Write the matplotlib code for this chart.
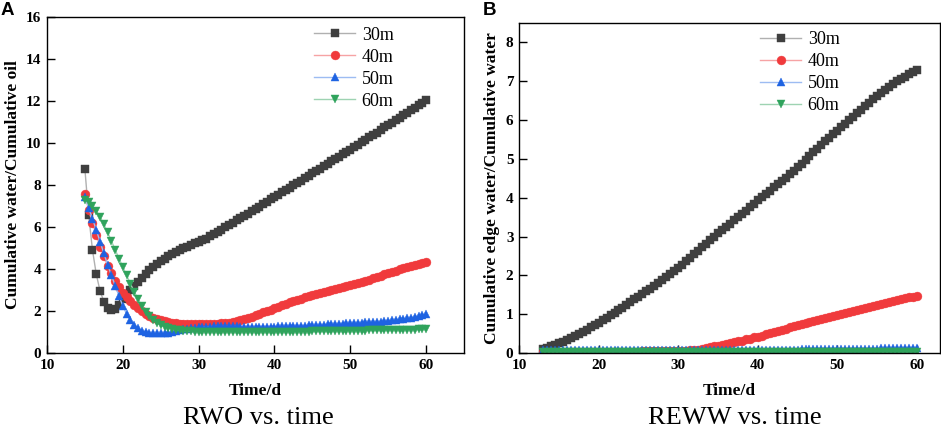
import numpy as np
import matplotlib
matplotlib.use("Agg")
import matplotlib.pyplot as plt

plt.rcParams['font.family'] = ['Liberation Serif', 'DejaVu Serif']

# ---- panel A: RWO vs. time (0.5 d steps, 15..60) ----
time_a = np.arange(15, 60.25, 0.5)
rwo_30 = [8.75, 6.55, 4.9, 3.75, 2.95, 2.45, 2.15, 2.05, 2.1, 2.3,
          2.55, 2.8, 3.0, 3.2, 3.4, 3.58, 3.75, 3.93, 4.1, 4.26,
          4.4, 4.5, 4.6, 4.7, 4.8, 4.89, 4.98, 5.07, 5.15, 5.23,
          5.3, 5.38, 5.45, 5.55, 5.65, 5.76, 5.87, 5.98, 6.09, 6.2,
          6.31, 6.42, 6.53, 6.64, 6.75, 6.86, 6.97, 7.08, 7.2, 7.31,
          7.42, 7.53, 7.65, 7.76, 7.87, 7.98, 8.1, 8.21, 8.32, 8.43,
          8.55, 8.66, 8.78, 8.89, 9.0, 9.12, 9.23, 9.35, 9.46, 9.58,
          9.69, 9.8, 9.92, 10.03, 10.15, 10.27, 10.39, 10.5, 10.62, 10.74,
          10.86, 10.97, 11.09, 11.2, 11.32, 11.44, 11.56, 11.68, 11.8, 11.92,
          12.04]
rwo_40 = [7.55, 6.8, 6.2, 5.6, 5.05, 4.6, 4.15, 3.8, 3.45, 3.12,
          2.85, 2.65, 2.47, 2.3, 2.14, 2.0, 1.88, 1.78, 1.69, 1.62,
          1.56, 1.51, 1.47, 1.44, 1.42, 1.4, 1.39, 1.38, 1.37, 1.37,
          1.37, 1.37, 1.37, 1.38, 1.38, 1.39, 1.41, 1.43, 1.45, 1.48,
          1.51, 1.55, 1.6, 1.66, 1.72, 1.79, 1.86, 1.93, 2.0, 2.07,
          2.14, 2.21, 2.28, 2.35, 2.41, 2.47, 2.53, 2.59, 2.65, 2.7,
          2.75, 2.8, 2.85, 2.9, 2.95, 3.0, 3.05, 3.1, 3.15, 3.2,
          3.25, 3.3, 3.35, 3.4, 3.45, 3.5, 3.56, 3.62, 3.68, 3.74,
          3.8, 3.86, 3.92, 3.98, 4.04, 4.1, 4.15, 4.2, 4.24, 4.28,
          4.31]
rwo_50 = [7.45, 6.9, 6.4, 5.85, 5.3, 4.75, 4.2, 3.7, 3.2, 2.7,
          2.25, 1.85, 1.55, 1.33, 1.17, 1.06, 1.0, 0.97, 0.95, 0.94,
          0.94, 0.95, 0.97, 1.0, 1.04, 1.08, 1.12, 1.15, 1.18, 1.2,
          1.22, 1.24, 1.25, 1.26, 1.27, 1.27, 1.27, 1.27, 1.27, 1.27,
          1.27, 1.26, 1.26, 1.26, 1.26, 1.26, 1.26, 1.26, 1.26, 1.26,
          1.26, 1.27, 1.27, 1.28, 1.28, 1.29, 1.29, 1.3, 1.3, 1.31,
          1.32, 1.33, 1.34, 1.35, 1.36, 1.37, 1.38, 1.39, 1.4, 1.41,
          1.42, 1.43, 1.44, 1.45, 1.46, 1.47, 1.48, 1.49, 1.5, 1.52,
          1.54, 1.56, 1.58, 1.6, 1.62, 1.65, 1.68, 1.72, 1.76, 1.8,
          1.85]
rwo_60 = [7.3, 7.2, 7.02, 6.78, 6.48, 6.12, 5.74, 5.33, 4.91, 4.5,
          4.1, 3.7, 3.3, 2.92, 2.57, 2.25, 1.97, 1.75, 1.57, 1.44,
          1.34, 1.26, 1.2, 1.15, 1.11, 1.08, 1.06, 1.04, 1.03, 1.02,
          1.01, 1.01, 1.0, 1.0, 1.0, 1.0, 1.0, 1.0, 1.0, 1.0,
          1.0, 1.0, 1.0, 1.0, 1.0, 1.0, 1.0, 1.0, 1.0, 1.0,
          1.0, 1.0, 1.0, 1.01, 1.01, 1.01, 1.01, 1.02, 1.02, 1.02,
          1.03, 1.03, 1.03, 1.04, 1.04, 1.04, 1.05, 1.05, 1.05, 1.06,
          1.06, 1.06, 1.07, 1.07, 1.07, 1.08, 1.08, 1.08, 1.09, 1.09,
          1.09, 1.1, 1.1, 1.1, 1.1, 1.11, 1.11, 1.11, 1.12, 1.12,
          1.12]

# ---- panel B: REWW vs. time (0.5 d steps, 13..60) ----
time_b = np.arange(13, 60.25, 0.5)
reww_30 = [0.10, 0.13, 0.17, 0.21, 0.25, 0.29, 0.34, 0.39, 0.44, 0.49,
           0.55, 0.6, 0.66, 0.72, 0.78, 0.84, 0.91, 0.97, 1.04, 1.1,
           1.17, 1.24, 1.31, 1.38, 1.45, 1.52, 1.59, 1.66, 1.73, 1.8,
           1.88, 1.95, 2.03, 2.1, 2.18, 2.27, 2.36, 2.45, 2.54, 2.63,
           2.72, 2.81, 2.9, 2.99, 3.08, 3.16, 3.25, 3.33, 3.42, 3.5,
           3.59, 3.67, 3.76, 3.84, 3.93, 4.01, 4.1, 4.18, 4.27, 4.35,
           4.44, 4.52, 4.61, 4.7, 4.79, 4.88, 4.98, 5.07, 5.17, 5.26,
           5.36, 5.45, 5.55, 5.64, 5.73, 5.82, 5.91, 6.0, 6.09, 6.18,
           6.27, 6.36, 6.45, 6.53, 6.62, 6.7, 6.78, 6.86, 6.93, 7.0,
           7.06, 7.12, 7.18, 7.24, 7.29]
reww_40 = [0.03, 0.03, 0.03, 0.03, 0.03, 0.03, 0.03, 0.03, 0.03, 0.03,
           0.03, 0.03, 0.03, 0.03, 0.03, 0.03, 0.03, 0.03, 0.03, 0.03,
           0.03, 0.03, 0.03, 0.03, 0.03, 0.04, 0.04, 0.04, 0.04, 0.04,
           0.04, 0.04, 0.05, 0.05, 0.05, 0.06, 0.06, 0.07, 0.08, 0.09,
           0.11, 0.13, 0.15, 0.17, 0.19, 0.21, 0.23, 0.25, 0.28, 0.3,
           0.32, 0.35, 0.37, 0.4, 0.42, 0.45, 0.48, 0.51, 0.54, 0.57,
           0.6, 0.63, 0.66, 0.69, 0.72, 0.75, 0.77, 0.8, 0.82, 0.85,
           0.88, 0.9, 0.93, 0.95, 0.98, 1.0, 1.03, 1.05, 1.08, 1.1,
           1.13, 1.15, 1.18, 1.2, 1.23, 1.26, 1.29, 1.31, 1.34, 1.36,
           1.39, 1.41, 1.43, 1.45, 1.47]
reww_50 = [0.07, 0.07, 0.07, 0.07, 0.07, 0.07, 0.07, 0.07, 0.07, 0.07,
           0.07, 0.07, 0.07, 0.07, 0.07, 0.07, 0.07, 0.07, 0.07, 0.07,
           0.07, 0.07, 0.07, 0.07, 0.07, 0.07, 0.07, 0.07, 0.07, 0.07,
           0.07, 0.07, 0.07, 0.07, 0.07, 0.07, 0.07, 0.07, 0.07, 0.07,
           0.08, 0.08, 0.08, 0.08, 0.08, 0.08, 0.08, 0.08, 0.08, 0.08,
           0.08, 0.08, 0.08, 0.08, 0.08, 0.09, 0.09, 0.09, 0.09, 0.09,
           0.09, 0.09, 0.09, 0.09, 0.09, 0.1, 0.1, 0.1, 0.1, 0.1,
           0.1, 0.1, 0.1, 0.1, 0.1, 0.11, 0.11, 0.11, 0.11, 0.11,
           0.11, 0.11, 0.11, 0.11, 0.11, 0.12, 0.12, 0.12, 0.12, 0.12,
           0.13, 0.13, 0.14, 0.14, 0.14]
reww_60 = [0.02, 0.02, 0.02, 0.02, 0.02, 0.03, 0.03, 0.03, 0.03, 0.03,
           0.03, 0.03, 0.03, 0.03, 0.03, 0.03, 0.03, 0.03, 0.03, 0.03,
           0.03, 0.03, 0.03, 0.03, 0.03, 0.03, 0.03, 0.03, 0.03, 0.03,
           0.03, 0.03, 0.03, 0.03, 0.03, 0.03, 0.03, 0.03, 0.03, 0.03,
           0.03, 0.03, 0.03, 0.03, 0.03, 0.03, 0.03, 0.03, 0.03, 0.03,
           0.03, 0.03, 0.03, 0.03, 0.03, 0.03, 0.03, 0.03, 0.03, 0.03,
           0.03, 0.03, 0.03, 0.03, 0.03, 0.03, 0.03, 0.03, 0.03, 0.03,
           0.03, 0.03, 0.03, 0.03, 0.03, 0.03, 0.03, 0.03, 0.03, 0.03,
           0.03, 0.03, 0.03, 0.03, 0.03, 0.03, 0.03, 0.03, 0.03, 0.03,
           0.03, 0.03, 0.03, 0.03, 0.03]

labels = ["30m", "40m", "50m", "60m"]
markers = ["s", "o", "^", "v"]
colors = ["#3f3f3f", "#f03a3c", "#1e63e2", "#2fa35c"]
line_colors = ["#b0b0b0", "#f6a3a4", "#9dbcf2", "#9ed3b2"]
msizes = [5.4, 6.4, 6.2, 6.2]

fig = plt.figure(figsize=(9.41, 4.33), dpi=100)
ax1 = fig.add_axes([47 / 941, 1 - 353 / 433, 417 / 941, 336 / 433])
ax2 = fig.add_axes([519 / 941, 1 - 353 / 433, 421 / 941, 330 / 433])


def draw(ax, t, series, anchor):
    for ys, lab, mk, c, lc, ms in zip(series, labels, markers, colors, line_colors, msizes):
        ax.plot(t, ys, color=lc, lw=1.0, marker=mk, markersize=ms,
                markerfacecolor=c, markeredgecolor=c, markeredgewidth=0.3, label=lab)
    ax.tick_params(direction="in", length=5.5, width=1.0, labelsize=11, pad=4)
    for sp in ax.spines.values():
        sp.set_linewidth(1.0)
    ax.set_xlabel("Time/d", fontsize=12.5, fontweight="bold", labelpad=8)
    ax.legend(loc="upper right", bbox_to_anchor=anchor, frameon=False,
              fontsize=13, handlelength=2.3, labelspacing=0.28, handletextpad=0.35)


draw(ax1, time_a, [rwo_30, rwo_40, rwo_50, rwo_60], (0.87, 1.02))
ax1.set_xlim(10, 65)
ax1.set_ylim(0, 16)
ax1.set_xticks([10, 20, 30, 40, 50, 60])
ax1.set_yticks(range(0, 17, 2))
ax1.set_ylabel("Cumulative water/Cumulative oil", fontsize=12.5, fontweight="bold", labelpad=4)

draw(ax2, time_b, [reww_30, reww_40, reww_50, reww_60], (0.80, 1.025))
ax2.set_xlim(10, 62.9)
ax2.set_ylim(0, 8.5)
ax2.set_xticks([10, 20, 30, 40, 50, 60])
ax2.set_yticks(range(0, 9))
ax2.set_ylabel("Cumulative edge water/Cumulative water", fontsize=12.5, fontweight="bold", labelpad=4)

for ax in (ax1, ax2):
    for lbl in ax.get_xticklabels() + ax.get_yticklabels():
        lbl.set_fontweight("bold")

fig.text(1 / 941, 1 - 2 / 433, "A", fontsize=13.5, fontweight="bold",
         family=["Liberation Sans", "DejaVu Sans"], ha="left", va="top")
fig.text(483 / 941, 1 - 2 / 433, "B", fontsize=13.5, fontweight="bold",
         family=["Liberation Sans", "DejaVu Sans"], ha="left", va="top")
fig.text(258 / 941, 1 - 418 / 433, "RWO vs. time", fontsize=19, ha="center", va="center")
fig.text(735 / 941, 1 - 418 / 433, "REWW vs. time", fontsize=19, ha="center", va="center")

fig.savefig("out.png", dpi=100)
